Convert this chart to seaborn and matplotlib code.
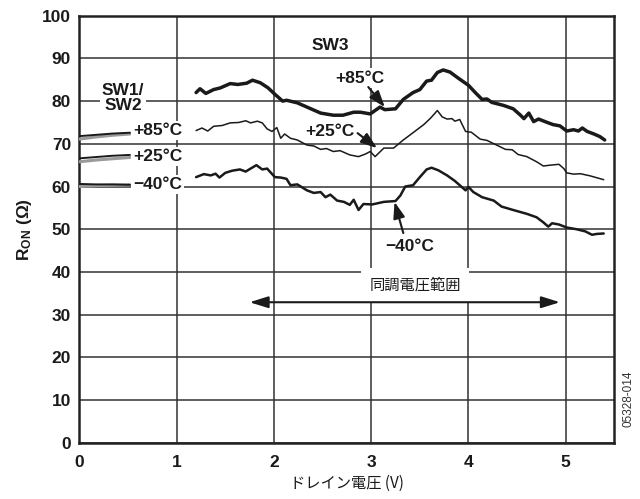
import numpy as np
import pandas as pd
import matplotlib
matplotlib.use("Agg")
import matplotlib.pyplot as plt
import seaborn as sns

# ---- data -----------------------------------------------------------------
# SW3 on-resistance vs drain voltage
sw3_85_v = [1.20, 1.24, 1.30, 1.38, 1.45, 1.55, 1.63, 1.72, 1.78, 1.86, 1.94, 2.01,
            2.09, 2.13, 2.24, 2.34, 2.48, 2.61, 2.71, 2.82, 2.89, 2.99, 3.09, 3.14,
            3.25, 3.33, 3.43, 3.50, 3.57, 3.62, 3.68, 3.74, 3.81, 3.90, 4.00, 4.07,
            4.14, 4.19, 4.24, 4.36, 4.46, 4.53, 4.57, 4.62, 4.67, 4.72, 4.81, 4.87,
            4.94, 5.01, 5.08, 5.13, 5.17, 5.22, 5.29, 5.35, 5.40]
sw3_85_r = [82.0, 82.9, 81.8, 82.7, 83.1, 84.1, 83.9, 84.2, 84.9, 84.3, 83.1, 81.6,
            80.0, 80.2, 79.6, 78.6, 77.2, 76.7, 76.7, 77.4, 77.4, 77.0, 78.6, 78.0,
            78.2, 80.4, 82.0, 82.7, 84.7, 84.9, 86.7, 87.3, 86.8, 85.3, 83.7, 82.0,
            80.4, 80.5, 79.7, 79.0, 78.2, 76.8, 75.9, 77.2, 75.2, 75.8, 75.0, 74.5,
            74.2, 73.0, 73.3, 73.0, 73.7, 72.9, 72.3, 71.7, 70.9]

sw3_25_v = [1.20, 1.26, 1.32, 1.38, 1.47, 1.55, 1.64, 1.71, 1.76, 1.83, 1.88, 1.93,
            1.98, 2.03, 2.07, 2.11, 2.17, 2.24, 2.34, 2.41, 2.48, 2.54, 2.61, 2.68,
            2.78, 2.87, 2.94, 2.99, 3.04, 3.13, 3.23, 3.33, 3.43, 3.54, 3.61, 3.68,
            3.73, 3.78, 3.83, 3.86, 3.91, 3.97, 4.03, 4.12, 4.19, 4.29, 4.38, 4.45,
            4.51, 4.60, 4.70, 4.77, 4.84, 4.93, 4.98, 5.01, 5.08, 5.15, 5.25, 5.39]
sw3_25_r = [73.1, 73.7, 73.0, 74.1, 74.3, 74.9, 75.0, 75.4, 74.9, 75.3, 74.9, 73.5,
            72.9, 73.8, 71.3, 72.3, 71.3, 70.9, 69.7, 69.5, 68.7, 68.9, 68.2, 68.4,
            67.4, 67.0, 67.6, 68.2, 67.0, 69.0, 69.0, 70.9, 72.6, 74.5, 76.0, 77.8,
            76.3, 75.8, 75.9, 75.3, 75.7, 72.9, 72.7, 71.1, 70.8, 69.7, 68.7, 68.6,
            67.5, 67.0, 65.8, 64.8, 65.0, 65.2, 64.2, 63.2, 62.9, 63.0, 62.5, 61.6]

sw3_m40_v = [1.20, 1.28, 1.35, 1.40, 1.44, 1.50, 1.57, 1.65, 1.71, 1.76, 1.82, 1.88,
             1.93, 2.01, 2.07, 2.13, 2.17, 2.24, 2.34, 2.41, 2.48, 2.53, 2.58, 2.65,
             2.72, 2.78, 2.82, 2.87, 2.92, 3.01, 3.13, 3.25, 3.30, 3.35, 3.43, 3.50,
             3.57, 3.62, 3.69, 3.78, 3.86, 3.93, 3.97, 4.00, 4.05, 4.14, 4.26, 4.34,
             4.46, 4.60, 4.70, 4.77, 4.82, 4.86, 4.93, 5.01, 5.11, 5.20, 5.27, 5.32, 5.39]
sw3_m40_r = [62.2, 62.9, 62.6, 63.0, 62.1, 63.2, 63.7, 64.0, 63.5, 64.2, 65.0, 64.0,
             64.2, 62.2, 62.1, 61.8, 60.3, 60.5, 59.1, 58.5, 58.7, 57.5, 58.1, 56.7,
             56.4, 55.7, 56.9, 54.5, 55.9, 55.8, 56.4, 56.6, 57.9, 60.0, 60.3, 62.2,
             64.0, 64.4, 63.8, 62.6, 61.3, 59.9, 59.1, 59.9, 58.7, 57.5, 56.7, 55.3,
             54.5, 53.6, 52.8, 51.6, 50.6, 51.4, 51.1, 50.4, 50.0, 49.5, 48.7, 48.9, 49.0]

# SW1/SW2 short traces near 0 V (two traces per temperature)
sw12_v = [0.0, 0.17, 0.34, 0.52]
sw12_85_a = [71.8, 72.1, 72.4, 72.6]
sw12_85_b = [71.1, 71.6, 72.0, 72.3]
sw12_25_a = [66.6, 66.9, 67.2, 67.4]
sw12_25_b = [65.8, 66.2, 66.5, 66.8]
sw12_m40_a = [60.6, 60.5, 60.5, 60.4]
sw12_m40_b = [60.0, 60.2, 60.3, 60.4]

x_ticks = [0, 1, 2, 3, 4, 5]
y_ticks = [0, 10, 20, 30, 40, 50, 60, 70, 80, 90, 100]

# tuning-voltage range (double arrow)
range_lo, range_hi = 1.75, 4.94

# ---- style ----------------------------------------------------------------
sns.set_theme(style="white")
plt.rcParams["font.family"] = ["Liberation Sans", "Noto Sans CJK JP", "DejaVu Sans"]
plt.rcParams["mathtext.fontset"] = "custom"
plt.rcParams["mathtext.rm"] = "Liberation Sans"
plt.rcParams["mathtext.bf"] = "Liberation Sans:bold"
plt.rcParams["mathtext.it"] = "Liberation Sans:italic"

ink = "#1a1a1a"
grey = "#9a9a9a"

fig = plt.figure(figsize=(6.40, 4.99), dpi=100)
ax = fig.add_axes([0.124, 0.1128, 0.836, 0.8557])

def draw(v, r, lw, color=ink, z=3):
    df = pd.DataFrame({"v": v, "r": r})
    sns.lineplot(data=df, x="v", y="r", ax=ax, color=color, lw=lw,
                 sort=False, estimator=None, zorder=z, solid_joinstyle="round")

draw(sw3_85_v, sw3_85_r, 2.5)
draw(sw3_25_v, sw3_25_r, 1.1)
draw(sw3_m40_v, sw3_m40_r, 1.8)

draw(sw12_v, sw12_85_b, 2.2, grey)
draw(sw12_v, sw12_85_a, 1.4)
draw(sw12_v, sw12_25_b, 2.2, grey)
draw(sw12_v, sw12_25_a, 1.4)
draw(sw12_v, sw12_m40_b, 2.2, grey)
draw(sw12_v, sw12_m40_a, 1.4)

ax.set_xlim(0, 5.5)
ax.set_ylim(0, 100)
ax.set_xticks(x_ticks)
ax.set_yticks(y_ticks)
ax.set_xticklabels([str(t) for t in x_ticks], fontsize=12.5, fontweight="bold", color=ink)
ax.set_yticklabels([str(t) for t in y_ticks], fontsize=12.5, fontweight="bold", color=ink)
ax.tick_params(axis="x", length=0, pad=9)
ax.tick_params(axis="y", length=0, pad=6)
ax.grid(True, color="#333333", lw=1.1, zorder=0)
ax.set_axisbelow(True)
for s in ax.spines.values():
    s.set_visible(True)
    s.set_color("#222222")
    s.set_linewidth(1.8)

ax.set_xlabel("ドレイン電圧 (V)", fontsize=11, color=ink,
              family=["Noto Sans CJK JP", "DejaVu Sans"], labelpad=3)
ax.set_ylabel(r"$\mathbf{R_{ON}}$ (Ω)", fontsize=12.5, fontweight="bold", color=ink,
              labelpad=6)

box = dict(facecolor="white", edgecolor="none", pad=1.5)
lab = dict(fontsize=12.5, fontweight="bold", color=ink, zorder=5)

# SW1/SW2 labels
ax.text(0.45, 80.7, "SW1/\nSW2", ha="center", va="center", linespacing=1.0,
        bbox=box, **lab)
ax.text(0.55, 73.2, "+85°C", ha="left", va="center", bbox=box, **lab)
ax.text(0.55, 67.1, "+25°C", ha="left", va="center", bbox=box, **lab)
ax.text(0.55, 60.4, "−40°C", ha="left", va="center", bbox=box, **lab)

# SW3 labels with pointer arrows
ax.text(2.58, 93.1, "SW3", ha="center", va="center", bbox=box, **lab)
arrow = dict(arrowstyle="-|>,head_length=0.7,head_width=0.25", color=ink, lw=1.5,
             mutation_scale=14, shrinkA=0, shrinkB=0)
ax.text(2.88, 85.4, "+85°C", ha="center", va="center", bbox=box, **lab)
ax.annotate("", xy=(3.14, 78.6), xytext=(2.97, 83.3), arrowprops=arrow, zorder=5)
ax.text(2.58, 72.8, "+25°C", ha="center", va="center", bbox=box, **lab)
ax.annotate("", xy=(3.06, 69.0), xytext=(2.86, 72.5), arrowprops=arrow, zorder=5)
ax.text(3.40, 45.9, "−40°C", ha="center", va="center", bbox=box, **lab)
ax.annotate("", xy=(3.24, 56.4), xytext=(3.33, 49.1), arrowprops=arrow, zorder=5)

# tuning voltage range
ax.text(3.45, 36.9, "同調電圧範囲", ha="center", va="center", fontsize=11, color=ink,
        family=["Noto Sans CJK JP", "DejaVu Sans"],
        bbox=dict(facecolor="white", edgecolor="none", pad=6), zorder=5)
ax.annotate("", xy=(range_lo, 32.9), xytext=(range_hi, 32.9),
            arrowprops=dict(arrowstyle="<|-|>,head_length=0.8,head_width=0.25",
                            color=ink, lw=1.5, mutation_scale=14,
                            shrinkA=0, shrinkB=0), zorder=5)

fig.text(0.982, 0.2, "05328-014", rotation=90, ha="center", va="center",
         fontsize=8.5, color="#333333")

fig.savefig("out.png", dpi=100)
